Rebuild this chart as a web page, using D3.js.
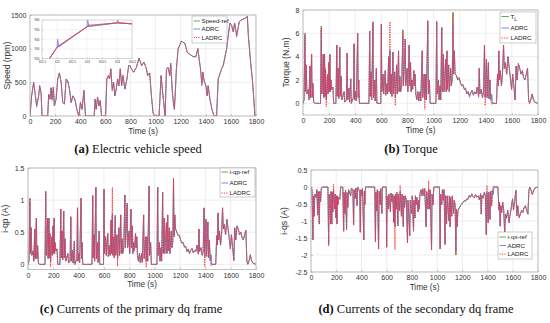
<!DOCTYPE html>
<html><head><meta charset="utf-8">
<script src="https://cdn.jsdelivr.net/npm/d3@7"></script>
<style>body{margin:0;background:#fff}svg{display:block}</style>
</head><body>
<svg id="c" width="550" height="323"></svg>
<script>
// ---------------- DATA ----------------
const xTicks = [0,200,400,600,800,1000,1200,1400,1600,1800];
const speedTicks = [0,500,1000,1500];
const torqueTicks = [0,2,4,6,8];
const iqpTicks = [0,0.5,1,1.5];
const iqsTicks = [-2.5,-2,-1.5,-1,-0.5,0,0.5];

// (a) speed
const speedT = [0,13,29,43,53,69,77,88,96,141,
149,160,168,176,186,194,208,221,234,248,
261,274,288,301,314,328,341,357,373,389,
402,415,429,442,511,519,527,538,549,559,
570,602,612,623,634,644,655,666,676,687,
698,708,719,730,740,756,772,788,807,826,
847,868,889,908,927,937,953,967,980,991,
1028,1044,1054,1065,1076,1087,1100,1113,1121,1132,
1142,1150,1156,1166,1180,1206,1233,1252,1268,1286,
1299,1321,1337,1347,1358,1369,1377,1387,1401,1411,
1419,1433,1449,1465,1486,1499,1526,1539,1566,1592,
1605,1619,1630,1646,1667,1686,1712,1731,1739,1757,
1773,1792,1800];
const speedRef = [0,300,500,300,150,300,450,350,0,0,
320,250,420,250,430,150,250,550,640,500,
200,180,550,520,400,200,300,250,100,0,
200,100,380,0,0,250,100,280,150,230,
0,0,550,600,550,700,400,500,300,400,
550,450,700,450,600,400,550,780,700,650,
720,860,750,800,700,600,640,300,50,0,
0,600,400,200,0,700,720,600,780,400,
200,100,300,700,1000,1110,1080,950,920,900,
880,880,1000,850,700,480,650,520,450,300,
450,250,100,0,0,550,700,750,1000,1380,
1350,1250,1380,1200,1400,1430,1450,1480,1200,800,
500,0,0];
const speedAdrcDev = [[53,130],[176,230],[389,-10],[655,370],[1076,-15],[1369,450],[1646,1170]];
const speedLadrcDev = [[53,160],[176,260],[655,390],[1369,470],[1646,1190]];

// inset of (a)
const insetTicksX = [611.5,612,612.5,613,613.5,614,614.5];
const insetTicksY = [920,930,940,950,960];
const insetRefT = [611.75,612,613,614,614.5];
const insetRef = [920,931.5,953,957,956];
const insetAdrcT = [611.75,612,612.02,612.06,613,613.02,613.06,614,614.02,614.06,614.5];
const insetAdrc = [920,931.5,940,932,953,961,953.5,957,960,957.3,956];
const insetLadrcT = [611.75,612,612.05,613,613.05,614,614.5];
const insetLadrc = [920,931.5,933,953,954.5,957,956];

// (b),(c),(d) shared time base
const pulseT = [0,8,15,19,25,30,41,46,53,57,
66,70,76,82,90,134,140,144,150,155,
159,165,169,173,178,188,192,198,202,206,
210,214,220,229,235,252,259,262,269,274,
282,286,292,298,315,320,332,338,342,351,
356,366,370,386,391,395,402,408,419,423,
427,432,505,511,515,521,526,536,540,549,
553,562,566,596,600,604,613,618,630,634,
643,648,656,660,666,670,676,681,689,693,
702,707,717,722,732,736,742,748,756,765,
769,775,783,787,798,803,813,817,824,828,
834,840,849,853,859,864,872,880,886,897,
902,913,917,928,933,940,945,956,960,968,
974,1018,1024,1028,1037,1042,1050,1055,1063,1067,
1075,1080,1093,1097,1103,1107,1116,1120,1131,1136,
1143,1149,1153,1159,1165,1175,1185,1195,1205,1215,
1225,1235,1245,1255,1265,1275,1285,1295,1305,1315,
1325,1335,1345,1350,1355,1365,1375,1383,1390,1395,
1405,1410,1420,1425,1432,1438,1445,1450,1482,1490,
1495,1500,1505,1512,1520,1528,1536,1542,1550,1560,
1570,1580,1590,1598,1606,1615,1625,1632,1640,1650,
1660,1670,1680,1690,1700,1710,1720,1728,1735,1745,
1755,1765,1775,1800];

const torqueRef = [0,0.3,6.0,1.0,3.3,0.8,1.2,0.3,3.2,0.5,
4.2,0.5,1.7,0.1,0,0,6.6,0.8,2.0,4.2,
0.5,4.2,0.6,2.8,0.3,2.5,0.8,3.5,1.0,4.2,
1.0,2.0,1.2,1.4,0,0,5.0,0.6,3.0,0.4,
4.8,0.6,2.3,0.3,1.0,0.1,0.3,4.3,0.3,1.3,
0.1,2.1,0,0.5,5.1,0.3,1.0,0.2,6.0,0.5,
2.0,0,0,6.2,0.6,2.7,0.3,7.0,0.5,2.0,
0.2,3.0,0,0,6.8,1.0,2.5,0.8,2.8,0.7,
1.7,0.8,4.0,1.0,4.5,0.8,2.5,0.6,4.4,0.8,
2.7,0.5,3.3,0.8,4.5,1.0,2.3,1.0,1.5,6.3,
1.5,3.0,5.5,1.5,3.0,1.0,5.0,1.5,3.5,1.0,
2.0,1.2,2.8,1.5,2.5,0.8,0.3,1.0,0.2,1.0,
0.2,4.5,0.5,2.5,0.3,2.5,0.3,7.1,0.8,2.0,
0,0,7.0,0.8,2.0,0.3,1.5,0.3,6.5,1.0,
4.2,1.0,3.8,1.0,4.5,1.2,3.3,1.0,3.0,1.5,
2.0,7.8,2.5,4.5,2.5,2.4,2.0,2.2,1.8,1.5,
1.6,1.2,1.3,0.8,1.0,0.6,0.9,1.1,0.7,1.0,
0.8,1.4,0.6,3.0,0.8,1.2,0.5,1.0,5.0,0.5,
3.8,0.5,3.5,0.4,2.0,0.3,0.8,0,0,2.5,
1.5,4.5,2.0,2.8,1.5,2.5,5.0,3.0,3.5,2.5,
4.0,3.0,2.0,1.2,2.5,1.5,0.3,3.2,2.0,3.4,
3.0,2.5,2.8,2.2,2.0,2.5,3.0,0.3,0,0.3,
0.8,0.3,0.1,0];
const torqueAdrcDev = [[15,5.8],[140,6.3],[536,6.8],[666,4.6],[765,5.8],[956,6.9],[1149,6.8],[1275,0.5],[1345,0.5]];
const torqueLadrcDev = [[173,3.0],[178,-0.3],[666,7.0],[707,-0.2],[933,-0.5],[1395,-0.2],[1445,-0.1],[1275,0.7]];

const iqpRef = [0,0.05,1.03,0.17,0.57,0.14,0.21,0.05,0.55,0.09,
0.72,0.09,0.29,0.02,0,0,1.14,0.14,0.34,0.72,
0.09,0.72,0.1,0.48,0.05,0.43,0.14,0.6,0.17,0.72,
0.17,0.34,0.21,0.24,0,0,0.86,0.1,0.52,0.07,
0.83,0.1,0.4,0.05,0.17,0.02,0.05,0.74,0.05,0.22,
0.02,0.36,0,0.09,0.88,0.05,0.17,0.03,1.03,0.09,
0.34,0,0,1.07,0.1,0.46,0.05,1.2,0.09,0.34,
0.03,0.52,0,0,1.17,0.17,0.43,0.14,0.48,0.12,
0.29,0.14,0.69,0.17,0.77,0.14,0.43,0.1,0.76,0.14,
0.46,0.09,0.57,0.14,0.77,0.17,0.4,0.17,0.26,1.08,
0.26,0.52,0.95,0.26,0.52,0.17,0.86,0.26,0.6,0.17,
0.34,0.21,0.48,0.26,0.43,0.14,0.05,0.17,0.03,0.17,
0.03,0.77,0.09,0.43,0.05,0.43,0.05,1.22,0.14,0.34,
0,0,1.2,0.14,0.34,0.05,0.26,0.05,1.12,0.17,
0.72,0.17,0.65,0.17,0.77,0.21,0.57,0.17,0.52,0.26,
0.34,1.34,0.43,0.77,0.55,0.5,0.45,0.45,0.38,0.33,
0.34,0.27,0.28,0.2,0.24,0.17,0.22,0.25,0.18,0.22,
0.2,0.3,0.16,0.55,0.2,0.26,0.14,0.2,0.88,0.12,
0.7,0.12,0.66,0.1,0.38,0.06,0.15,0,0,0.45,
0.3,0.8,0.38,0.52,0.3,0.46,0.88,0.55,0.62,0.46,
0.7,0.55,0.38,0.24,0.46,0.28,0.06,0.57,0.38,0.6,
0.55,0.46,0.5,0.42,0.38,0.46,0.53,0.05,0,0.05,
0.15,0.06,0.02,0];
const iqpAdrcDev = [[15,0.98],[140,1.1],[1149,1.3],[666,0.79]];
const iqpLadrcDev = [[178,-0.04],[666,1.2],[707,-0.03],[933,-0.05],[1395,-0.04],[1445,-0.02]];

const iqsRef = [0,-0.08,-1.56,-0.26,-0.86,-0.21,-0.31,-0.08,-0.83,-0.13,
-1.09,-0.13,-0.44,-0.03,0,0,-1.72,-0.21,-0.52,-1.09,
-0.13,-1.09,-0.16,-0.73,-0.08,-0.65,-0.21,-0.91,-0.26,-1.09,
-0.26,-0.52,-0.31,-0.36,0,0,-1.3,-0.16,-0.78,-0.1,
-1.25,-0.16,-0.6,-0.08,-0.26,-0.03,-0.08,-1.12,-0.08,-0.34,
-0.03,-0.55,0,-0.13,-1.33,-0.08,-0.26,-0.05,-1.56,-0.13,
-0.52,0,0,-1.61,-0.16,-0.7,-0.08,-1.82,-0.13,-0.52,
-0.05,-0.78,0,0,-1.77,-0.26,-0.65,-0.21,-0.73,-0.18,
-0.44,-0.21,-1.04,-0.26,-1.17,-0.21,-0.65,-0.16,-1.14,-0.21,
-0.7,-0.13,-0.86,-0.21,-1.17,-0.26,-0.6,-0.26,-0.39,-1.64,
-0.39,-0.78,-1.43,-0.39,-0.78,-0.26,-1.3,-0.39,-0.91,-0.26,
-0.52,-0.31,-0.73,-0.39,-0.65,-0.21,-0.08,-0.26,-0.05,-0.26,
-0.05,-1.17,-0.13,-0.65,-0.08,-0.65,-0.08,-1.85,-0.21,-0.52,
0,0,-1.82,-0.21,-0.52,-0.08,-0.39,-0.08,-1.69,-0.26,
-1.09,-0.26,-0.99,-0.26,-1.17,-0.31,-0.86,-0.26,-0.78,-0.39,
-0.52,-2.0,-0.65,-1.17,-0.7,-0.62,-0.55,-0.5,-0.45,-0.4,
-0.42,-0.35,-0.36,-0.25,-0.3,-0.2,-0.28,-0.32,-0.22,-0.3,
-0.26,-0.38,-0.2,-0.8,-0.25,-0.33,-0.15,-0.28,-1.4,-0.15,
-1.05,-0.15,-0.95,-0.12,-0.55,-0.1,-0.22,0,0,-0.68,
-0.45,-1.15,-0.55,-0.75,-0.45,-0.68,-1.35,-0.8,-0.92,-0.68,
-1.05,-0.8,-0.55,-0.35,-0.68,-0.42,-0.1,-0.85,-0.55,-0.9,
-0.8,-0.68,-0.75,-0.6,-0.55,-0.68,-0.8,-0.1,0,-0.1,
-0.22,-0.1,-0.03,0];
const iqsAdrcDev = [[1149,-1.9],[140,-1.65]];
const iqsLadrcDev = [[178,0.08],[666,-1.85],[707,0.05],[933,0.18],[1395,0.05],[1445,0.03]];

// ---------------- DRAW ----------------
const COL = {ref:"#3aad48", adrc:"#7474ff", ladrc:"#ff2a2a", grid:"#e2e2e2", axis:"#a8a8a8", text:"#333"};
const svg = d3.select("#c");
const defs = svg.append("defs");
let clipId = 0;

function pairs(times, vals, dev){
  const m = new Map(dev || []);
  const n = Math.min(times.length, vals.length);
  const out = [];
  for (let i=0;i<n;i++) out.push([times[i], m.has(times[i]) ? m.get(times[i]) : vals[i]]);
  return out;
}

function panel(o){
  const x = d3.scaleLinear().domain(o.xDom || [0,1800]).range([o.x0,o.x1]);
  const y = d3.scaleLinear().domain(o.yDom).range([o.y1,o.y0]);
  const g = svg.append("g");
  g.append("rect").attr("x",o.x0).attr("y",o.y0).attr("width",o.x1-o.x0).attr("height",o.y1-o.y0).attr("fill","#fff");
  g.append("g").selectAll("line").data(o.xTicks).join("line")
    .attr("x1",d=>x(d)).attr("x2",d=>x(d)).attr("y1",o.y0).attr("y2",o.y1)
    .attr("stroke",COL.grid).attr("stroke-width",o.gw||0.6);
  g.append("g").selectAll("line").data(o.yTicks).join("line")
    .attr("y1",d=>y(d)).attr("y2",d=>y(d)).attr("x1",o.x0).attr("x2",o.x1)
    .attr("stroke",COL.grid).attr("stroke-width",o.gw||0.6);
  const id = "clip"+(clipId++);
  defs.append("clipPath").attr("id",id).append("rect")
    .attr("x",o.x0).attr("y",o.y0).attr("width",o.x1-o.x0).attr("height",o.y1-o.y0);
  const line = d3.line().x(d=>x(d[0])).y(d=>y(d[1]));
  const lg = g.append("g").attr("clip-path",`url(#${id})`);
  lg.append("path").datum(o.ref).attr("d",line).attr("fill","none").attr("stroke",COL.ref).attr("stroke-width",o.lw||0.8);
  lg.append("path").datum(o.adrc).attr("d",line).attr("fill","none").attr("stroke",COL.adrc).attr("stroke-width",o.lw||0.7);
  lg.append("path").datum(o.ladrc).attr("d",line).attr("fill","none").attr("stroke",COL.ladrc).attr("stroke-width",o.lwr||0.9).attr("stroke-dasharray",o.dash||"1.3,1.1");
  g.append("rect").attr("x",o.x0).attr("y",o.y0).attr("width",o.x1-o.x0).attr("height",o.y1-o.y0)
    .attr("fill","none").attr("stroke",COL.axis).attr("stroke-width",o.bw||0.7);
  const fs = o.fs||7;
  const ax = g.append("g").attr("transform",`translate(0,${o.y1})`)
    .call(d3.axisBottom(x).tickValues(o.xTicks).tickSizeInner(-(o.tk||2)).tickSizeOuter(0).tickPadding(o.tpx||3.5).tickFormat(d=>String(d)));
  const ay = g.append("g").attr("transform",`translate(${o.x0},0)`)
    .call(d3.axisLeft(y).tickValues(o.yTicks).tickSizeInner(-(o.tk||2)).tickSizeOuter(0).tickPadding(o.tpy||3.5).tickFormat(d=>String(d)));
  [ax,ay].forEach(a=>{
    a.select(".domain").remove();
    a.selectAll("line").attr("stroke",COL.axis).attr("stroke-width",0.6);
    a.selectAll("text").attr("fill",COL.text).attr("font-size",fs).attr("font-family","Liberation Sans, Arial, sans-serif");
  });
  if (o.xlabel) g.append("text").attr("x",(o.x0+o.x1)/2).attr("y",o.y1+17.5).attr("text-anchor","middle")
    .attr("font-size",8.2).attr("font-family","Liberation Sans, Arial, sans-serif").attr("fill",COL.text).text(o.xlabel);
  if (o.ylabel) g.append("text").attr("transform",`translate(${o.ylx},${(o.y0+o.y1)/2}) rotate(-90)`).attr("text-anchor","middle")
    .attr("font-size",8.6).attr("font-family","Liberation Sans, Arial, sans-serif").attr("fill",COL.text).text(o.ylabel);
  return {x,y,g};
}

function legend(o){
  const g = svg.append("g");
  g.append("rect").attr("x",o.x).attr("y",o.y).attr("width",o.w).attr("height",o.h)
    .attr("fill","#fff").attr("stroke","#9a9a9a").attr("stroke-width",0.5);
  const items = [{c:COL.ref,d:null},{c:COL.adrc,d:null},{c:COL.ladrc,d:"1.3,1.1"}];
  o.labels.forEach((lab,i)=>{
    const yy = o.y + o.rows[i];
    g.append("line").attr("x1",o.x+1.5).attr("x2",o.x+o.sw).attr("y1",yy).attr("y2",yy)
      .attr("stroke",items[i].c).attr("stroke-width",0.9).attr("stroke-dasharray",items[i].d);
    const t = g.append("text").attr("x",o.x+o.sw+1.5).attr("y",yy+2.1).attr("font-size",o.fs||6.2)
      .attr("font-family","Liberation Sans, Arial, sans-serif").attr("fill","#222");
    if (Array.isArray(lab)) { t.append("tspan").text(lab[0]); t.append("tspan").attr("font-size",4.5).attr("dy",2).text(lab[1]); }
    else t.text(lab);
  });
}

function caption(cx, y, tag, txt){
  const t = svg.append("text").attr("x",cx).attr("y",y).attr("text-anchor","middle")
    .attr("font-family","Liberation Serif, Times New Roman, serif").attr("font-size",12.5).attr("fill","#111");
  t.append("tspan").attr("font-weight","bold").text(tag);
  t.append("tspan").text(" "+txt);
}

// (a)
panel({x0:30,x1:256,y0:15,y1:116,yDom:[0,1500],xTicks,yTicks:speedTicks,
  ref:pairs(speedT,speedRef),adrc:pairs(speedT,speedRef,speedAdrcDev),ladrc:pairs(speedT,speedRef,speedLadrcDev),
  xlabel:"Time (s)",ylabel:"Speed (rpm)",ylx:10});
// inset
svg.append("rect").attr("x",31.5).attr("y",16).attr("width",104.5).attr("height",49).attr("fill","#fff");
panel({x0:42,x1:132,y0:20,y1:58.5,xDom:[611.5,614.5],yDom:[920,960],xTicks:insetTicksX,yTicks:insetTicksY,
  ref:pairs(insetRefT,insetRef),adrc:pairs(insetAdrcT,insetAdrc),ladrc:pairs(insetLadrcT,insetLadrc),
  fs:2.9,tk:1,tpx:2.2,tpy:2.6,lw:0.8,lwr:0.9,dash:"1,0",gw:0.4,bw:0.4});
legend({x:192,y:16,w:35,h:27,sw:8,rows:[5,13,21.5],labels:["Speed-ref","ADRC","LADRC"]});

// (b)
panel({x0:303,x1:538,y0:10,y1:115,yDom:[-1,8],xTicks,yTicks:torqueTicks,
  ref:pairs(pulseT,torqueRef),adrc:pairs(pulseT,torqueRef,torqueAdrcDev),ladrc:pairs(pulseT,torqueRef,torqueLadrcDev),
  xlabel:"Time (s)",ylabel:"Torque (N.m)",ylx:289});
legend({x:500,y:12,w:36,h:31,sw:9,rows:[4.5,16,26],labels:[["T","L"],"ADRC","LADRC"]});

// (c)
panel({x0:28,x1:256,y0:168,y1:269.5,yDom:[-0.08,1.5],xTicks,yTicks:iqpTicks,
  ref:pairs(pulseT,iqpRef),adrc:pairs(pulseT,iqpRef,iqpAdrcDev),ladrc:pairs(pulseT,iqpRef,iqpLadrcDev),
  xlabel:"Time (s)",ylabel:"i-qp (A)",ylx:8});
legend({x:220,y:168,w:35,h:29,sw:8,rows:[4,15,25],labels:["i-qp-ref","ADRC","LADRC"]});

// (d)
panel({x0:311,x1:538,y0:170,y1:272,yDom:[-2.5,0.5],xTicks,yTicks:iqsTicks,
  ref:pairs(pulseT,iqsRef),adrc:pairs(pulseT,iqsRef,iqsAdrcDev),ladrc:pairs(pulseT,iqsRef,iqsLadrcDev),
  xlabel:"Time (s)",ylabel:"i-qs (A)",ylx:287});
legend({x:498,y:232,w:34,h:27,sw:8,rows:[5,13.5,22],labels:["i-qs-ref","ADRC","LADRC"]});

caption(138,153,"(a)","Electric vehicle speed");
caption(411,153,"(b)","Torque");
caption(131,313,"(c)","Currents of the primary dq frame");
caption(416,313,"(d)","Currents of the secondary dq frame");
</script>
</body></html>
